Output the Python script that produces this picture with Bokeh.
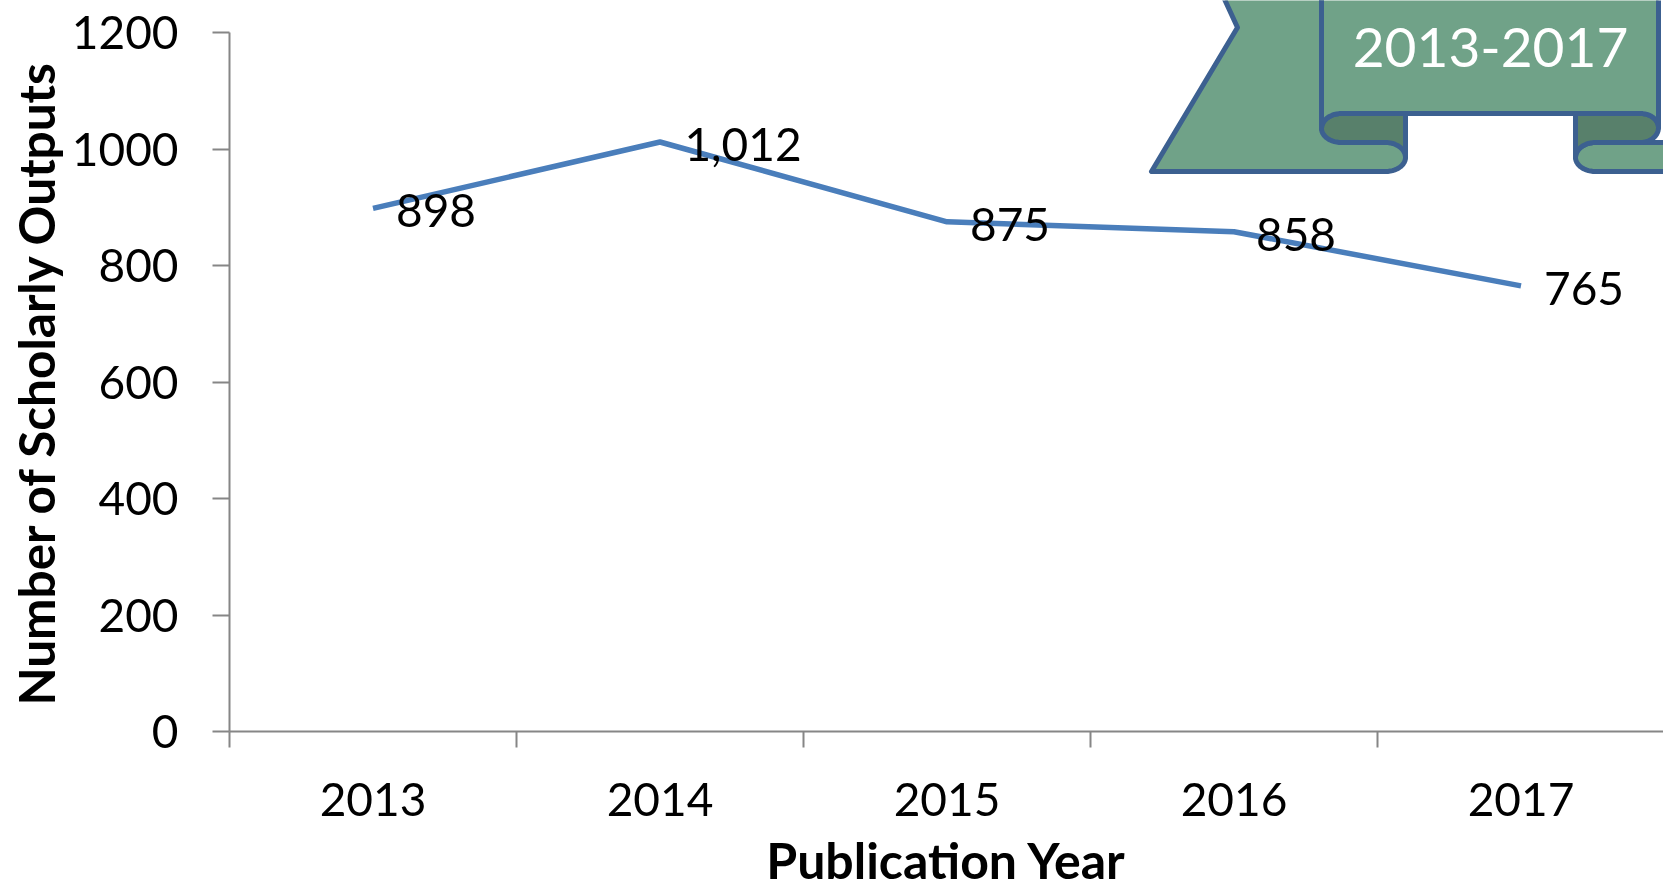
import numpy as np
from bokeh.plotting import figure, ColumnDataSource
from bokeh.models import FixedTicker, Range1d, Title
from bokeh.core.properties import value
from bokeh.embed import file_html
from bokeh.resources import INLINE

years = ["2013", "2014", "2015", "2016", "2017"]
outputs = [898, 1012, 875, 858, 765]
value_labels = ["898", "1,012", "875", "858", "765"]
y_ticks = [0, 200, 400, 600, 800, 1000, 1200]
banner_text = "2013-2017"
x_title = "Publication Year"
y_title = "Number of Scholarly Outputs"
label_dx = [63, 83, 63, 62, 63]
label_dy = [2, 2, 3, 3, 3]

W, H = 1663, 893
LEFT, ZERO_Y, TOP_Y, STEP = 229, 731, 32, 287
FONT = "Lato"
AXIS = "#868686"
LINE = "#4A7EBB"
FILL = "#70A288"
DARK = "#58806B"
EDGE = "#3C6090"

y_end = 1200 * ZERO_Y / (ZERO_Y - TOP_Y)
x_end = 0.5 + (W - LEFT) / STEP

p = figure(width=W, height=H, output_backend="svg", toolbar_location=None,
           x_range=Range1d(0.5, x_end), y_range=Range1d(0, y_end),
           min_border_left=LEFT, min_border_right=0, min_border_top=0,
           min_border_bottom=H - ZERO_Y, outline_line_color=None)
p.styles = {"position": "fixed", "left": "0px", "top": "0px"}
p.grid.visible = False
p.background_fill_color = "white"
p.border_fill_color = "white"

px = lambda x: 0.5 + (np.asarray(x, float) - LEFT) / STEP
py = lambda y: (ZERO_Y - np.asarray(y, float)) * y_end / ZERO_Y


def arc(x0, y0, x1, y1, first="h"):
    """Quarter ellipse from (x0,y0) to (x1,y1), leaving along the given axis."""
    t = np.linspace(0, np.pi / 2, 14)
    if first == "h":
        return list(x0 + (x1 - x0) * np.sin(t)), list(y1 + (y0 - y1) * np.cos(t))
    return list(x1 + (x0 - x1) * np.cos(t)), list(y0 + (y1 - y0) * np.sin(t))


def shape(*parts, fill=FILL):
    xs, ys = [], []
    for a, b in parts:
        xs += list(a)
        ys += list(b)
    p.patch(px(xs), py(ys), fill_color=fill, line_color=EDGE, line_width=5, line_join="round")


pt = lambda x, y: ([x], [y])

shape(pt(1220, -10), pt(1237, 27), pt(1151, 171), pt(1385, 171),
      arc(1385, 171, 1405, 157, "h"), pt(1405, 100), pt(1321, 100), pt(1321, -10))
shape(arc(1341, 113, 1321, 128, "h"), arc(1321, 128, 1341, 142, "v"), pt(1385, 142),
      arc(1385, 142, 1405, 157, "h"), pt(1405, 113), fill=DARK)
shape(pt(1670, 171), pt(1595, 171), arc(1595, 171, 1575, 157, "h"),
      arc(1575, 157, 1595, 142, "v"), pt(1670, 142))
shape(pt(1575, 113), pt(1575, 157), arc(1575, 157, 1595, 142, "v"), pt(1640, 142),
      arc(1640, 142, 1658, 127, "h"), arc(1658, 127, 1640, 113, "v"), fill=DARK)
shape(pt(1321, -10), arc(1321, 128, 1341, 113, "v"), pt(1640, 113),
      arc(1640, 113, 1658, 127, "h"), pt(1658, -10))
p.text(px([1490]), py([47]), text=[banner_text], text_color="white", text_align="center",
       text_baseline="middle", text_font=value(FONT), text_font_size="55px")

xs = list(range(1, len(years) + 1))
src = ColumnDataSource(dict(x=xs, y=outputs, t=value_labels, dx=label_dx, dy=label_dy))
p.line("x", "y", source=src, line_color=LINE, line_width=5.5, line_join="round")
p.text("x", "y", text="t", source=src, x_offset="dx", y_offset="dy", text_align="center",
       text_baseline="middle", text_color="black", text_font=value(FONT), text_font_size="46px")

xa, ya = p.xaxis[0], p.yaxis[0]
xa.ticker = FixedTicker(ticks=xs, minor_ticks=[i + 0.5 for i in range(0, 6)])
xa.major_label_overrides = {x: y for x, y in zip(xs, years)}
xa.major_tick_out = 0
xa.major_tick_in = 0
xa.minor_tick_out = 16
xa.minor_tick_in = 0
xa.minor_tick_line_color = AXIS
xa.minor_tick_line_width = 2
xa.major_label_standoff = 35
xa.axis_label = x_title
xa.axis_label_standoff = 11
xa.axis_label_text_font = FONT
xa.axis_label_text_font_size = "50px"
xa.axis_label_text_font_style = "bold"
xa.axis_label_text_color = "black"

ya.ticker = FixedTicker(ticks=y_ticks)
ya.bounds = (0, 1200)
ya.major_tick_out = 17
ya.major_tick_in = 0
ya.minor_tick_out = 0
ya.minor_tick_in = 0
ya.major_tick_line_color = AXIS
ya.major_tick_line_width = 2
ya.major_label_standoff = 34

for a in (xa, ya):
    a.axis_line_color = AXIS
    a.axis_line_width = 2
    a.major_label_text_font = FONT
    a.major_label_text_font_size = "46px"
    a.major_label_text_color = "black"

p.add_layout(Title(text=y_title, align="left", offset=26, standoff=6, text_font=FONT,
                   text_font_size="49.5px", text_font_style="bold", text_color="black"), "left")

open("out.html", "w").write(file_html(p, INLINE))
